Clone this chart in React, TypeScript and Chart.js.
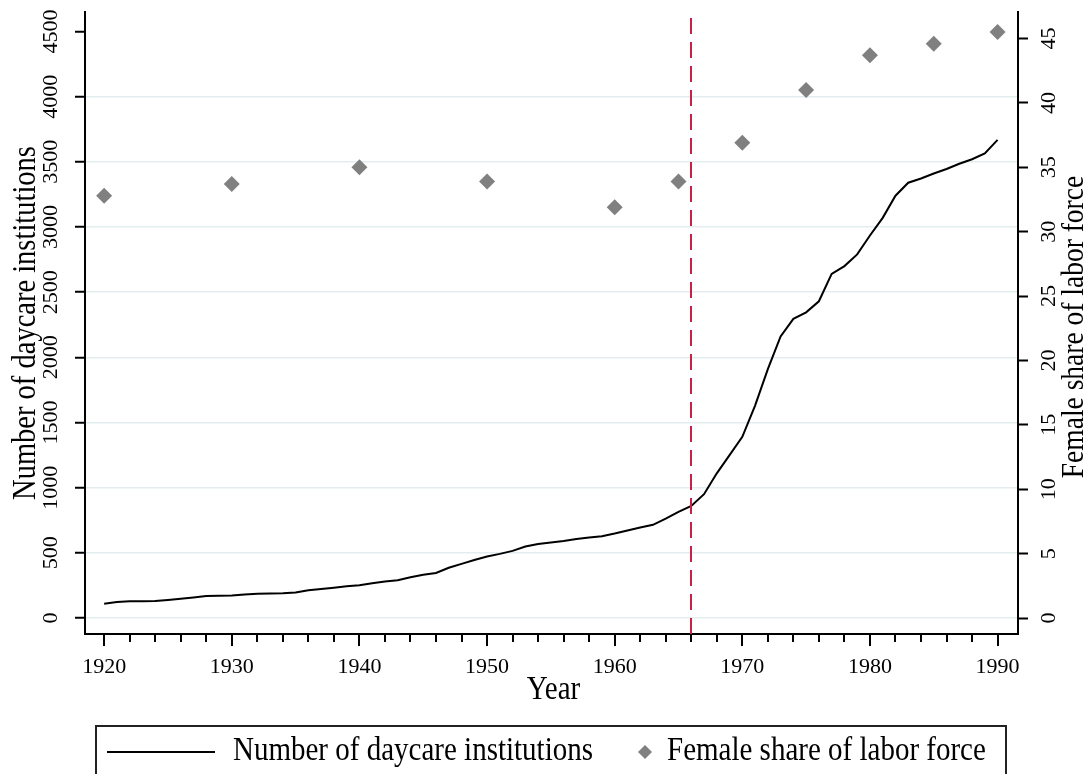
import React, { useEffect, useRef } from "react";
import { Chart, registerables } from "chart.js";

Chart.register(...registerables);

// ---------- data ----------
const years = [
  1920, 1921, 1922, 1923, 1924, 1925, 1926, 1927, 1928, 1929,
  1930, 1931, 1932, 1933, 1934, 1935, 1936, 1937, 1938, 1939,
  1940, 1941, 1942, 1943, 1944, 1945, 1946, 1947, 1948, 1949,
  1950, 1951, 1952, 1953, 1954, 1955, 1956, 1957, 1958, 1959,
  1960, 1961, 1962, 1963, 1964, 1965, 1966, 1967, 1968, 1969,
  1970, 1971, 1972, 1973, 1974, 1975, 1976, 1977, 1978, 1979,
  1980, 1981, 1982, 1983, 1984, 1985, 1986, 1987, 1988, 1989,
  1990,
];

const daycareInstitutions = [
  110, 122, 128, 128, 130, 138, 148, 158, 168, 170,
  172, 180, 186, 188, 190, 196, 212, 222, 232, 244,
  252, 266, 280, 290, 312, 332, 345, 385, 415, 445,
  472, 492, 515, 548, 568, 580, 590, 606, 618, 628,
  648, 672, 695, 715, 762, 815, 860, 950, 1110, 1250,
  1390, 1630, 1910, 2160, 2295, 2345, 2430, 2640, 2700, 2790,
  2935, 3070, 3240, 3340, 3372, 3410, 3445, 3485, 3520, 3565,
  3668,
];

const laborYears = [1920, 1930, 1940, 1950, 1960, 1965, 1970, 1975, 1980, 1985, 1990];
const femaleShare = [32.8, 33.7, 35.0, 33.9, 31.9, 33.9, 36.9, 41.0, 43.7, 44.6, 45.5];

const leftTicks = [0, 500, 1000, 1500, 2000, 2500, 3000, 3500, 4000, 4500];
const rightTicks = [0, 5, 10, 15, 20, 25, 30, 35, 40, 45];

const cutoffYear = 1966;
const xMajorStep = 10;

const xTitle = "Year";
const leftTitle = "Number of daycare institutions";
const rightTitle = "Female share of labor force";
const lineLabel = "Number of daycare institutions";
const pointLabel = "Female share of labor force";

// ---------- styling ----------
const FONT = '"Liberation Serif", "Times New Roman", serif';
const GRID = "#e3edf0";
const RED = "#cc1f45";
const GRAY = "#808080";
const STRETCH = 1.15;

function drawText(
  ctx: CanvasRenderingContext2D,
  text: string,
  x: number,
  y: number,
  rot: number,
  size: number,
  align: CanvasTextAlign,
  baseline: CanvasTextBaseline,
  sy = 1
) {
  ctx.save();
  ctx.translate(x, y);
  ctx.rotate(rot);
  ctx.scale(1, sy);
  ctx.font = `${size}px ${FONT}`;
  ctx.fillStyle = "#000";
  ctx.textAlign = align;
  ctx.textBaseline = baseline;
  ctx.fillText(text, 0, 0);
  ctx.restore();
}

const decorPlugin = {
  id: "stataDecor",
  afterDatasetsDraw(chart: any) {
    const { ctx, chartArea, scales } = chart;
    const px = Math.round(scales.x.getPixelForValue(cutoffYear));
    ctx.save();
    ctx.strokeStyle = RED;
    ctx.lineWidth = 2;
    ctx.setLineDash([16, 8]);
    ctx.beginPath();
    ctx.moveTo(px, chartArea.top + 6);
    ctx.lineTo(px, chartArea.bottom);
    ctx.stroke();
    ctx.restore();
  },
  afterDraw(chart: any) {
    const { ctx, chartArea, scales } = chart;
    const xs = scales.x;
    const yl = scales.y;
    const yr = scales.y1;

    // x tick marks (major longer)
    ctx.save();
    ctx.strokeStyle = "#000";
    ctx.lineWidth = 2;
    ctx.beginPath();
    xs.ticks.forEach((t: any) => {
      const p = Math.round(xs.getPixelForValue(t.value));
      const len = t.value % xMajorStep === 0 ? 12 : 8;
      ctx.moveTo(p, chartArea.bottom);
      ctx.lineTo(p, chartArea.bottom + len);
    });
    ctx.stroke();
    ctx.restore();

    // rotated y tick labels
    yl.ticks.forEach((t: any) => {
      drawText(ctx, String(t.value), 51, yl.getPixelForValue(t.value), -Math.PI / 2, 22, "center", "middle");
    });
    yr.ticks.forEach((t: any) => {
      drawText(ctx, String(t.value), 1049, yr.getPixelForValue(t.value), -Math.PI / 2, 22, "center", "middle");
    });

    // axis titles
    const cy = (chartArea.top + chartArea.bottom) / 2;
    const cx = (chartArea.left + chartArea.right) / 2;
    drawText(ctx, leftTitle, 35, cy, -Math.PI / 2, 28.5, "center", "alphabetic", STRETCH);
    drawText(ctx, rightTitle, 1083, cy + 4, -Math.PI / 2, 27.5, "center", "alphabetic", STRETCH);
    drawText(ctx, xTitle, cx + 2, 699, 0, 29, "center", "alphabetic", STRETCH);

    // legend
    ctx.save();
    ctx.strokeStyle = "#222";
    ctx.lineWidth = 2;
    ctx.strokeRect(96, 726, 910, 60);
    ctx.strokeStyle = "#000";
    ctx.beginPath();
    ctx.moveTo(107, 752);
    ctx.lineTo(215, 752);
    ctx.stroke();
    ctx.fillStyle = GRAY;
    ctx.beginPath();
    ctx.moveTo(645 - 7, 752);
    ctx.lineTo(645, 752 - 7);
    ctx.lineTo(645 + 7, 752);
    ctx.lineTo(645, 752 + 7);
    ctx.closePath();
    ctx.fill();
    ctx.restore();
    drawText(ctx, lineLabel, 233, 760, 0, 29, "left", "alphabetic", STRETCH);
    drawText(ctx, pointLabel, 667, 760, 0, 29, "left", "alphabetic", STRETCH);
  },
};

export default function App() {
  const ref = useRef<HTMLCanvasElement | null>(null);

  useEffect(() => {
    document.body.style.margin = "0";
    const canvas = ref.current;
    if (!canvas) return;
    Chart.defaults.font.family = FONT;
    Chart.defaults.color = "#000";

    const chart = new Chart(canvas, {
      type: "line",
      data: {
        datasets: [
          {
            type: "line",
            label: lineLabel,
            data: years.map((y, i) => ({ x: y, y: daycareInstitutions[i] })),
            borderColor: "#000",
            borderWidth: 2,
            pointRadius: 0,
            tension: 0,
            yAxisID: "y",
          },
          {
            type: "scatter",
            label: pointLabel,
            data: laborYears.map((y, i) => ({ x: y, y: femaleShare[i] })),
            backgroundColor: GRAY,
            borderColor: GRAY,
            borderWidth: 0,
            pointStyle: "rectRot",
            pointRadius: 8,
            yAxisID: "y1",
          } as any,
        ],
      },
      options: {
        responsive: false,
        devicePixelRatio: 1,
        animation: false,
        layout: { padding: { top: 12, left: 0, right: 0, bottom: 0 } },
        plugins: {
          legend: { display: false },
          tooltip: { enabled: false },
        },
        scales: {
          x: {
            type: "linear",
            min: 1918.5,
            max: 1991.6,
            afterFit: (s: any) => {
              s.height = 140;
            },
            grid: { display: true, drawOnChartArea: false, drawTicks: false },
            border: { display: true, color: "#000", width: 2 },
            ticks: {
              stepSize: 2,
              includeBounds: false,
              autoSkip: false,
              maxRotation: 0,
              minRotation: 0,
              padding: 20,
              font: { size: 22, family: FONT },
              color: "#000",
              callback: (v: any) => (Number(v) % xMajorStep === 0 ? String(v) : ""),
            },
          },
          y: {
            type: "linear",
            position: "left",
            min: -122.8,
            max: 4649.6,
            afterBuildTicks: (s: any) => {
              s.ticks = leftTicks.map((v) => ({ value: v }));
            },
            afterFit: (s: any) => {
              s.width = 85;
            },
            grid: {
              color: (c: any) =>
                c.tick && c.tick.value === leftTicks[leftTicks.length - 1] ? "rgba(0,0,0,0)" : GRID,
              lineWidth: 1.5,
              drawTicks: true,
              tickLength: 10,
              tickColor: "#000",
              tickWidth: 2,
            },
            border: { display: true, color: "#000", width: 2 },
            ticks: { display: false },
          },
          y1: {
            type: "linear",
            position: "right",
            min: -1.24,
            max: 47.06,
            afterBuildTicks: (s: any) => {
              s.ticks = rightTicks.map((v) => ({ value: v }));
            },
            afterFit: (s: any) => {
              s.width = 69;
            },
            grid: {
              drawOnChartArea: false,
              drawTicks: true,
              tickLength: 10,
              tickColor: "#000",
              tickWidth: 2,
            },
            border: { display: true, color: "#000", width: 2 },
            ticks: { display: false },
          },
        },
      } as any,
      plugins: [decorPlugin],
    });

    return () => chart.destroy();
  }, []);

  return (
    <div style={{ width: 1087, height: 774, overflow: "hidden", background: "#fff" }}>
      <canvas ref={ref} width={1087} height={774} style={{ display: "block" }} />
    </div>
  );
}
